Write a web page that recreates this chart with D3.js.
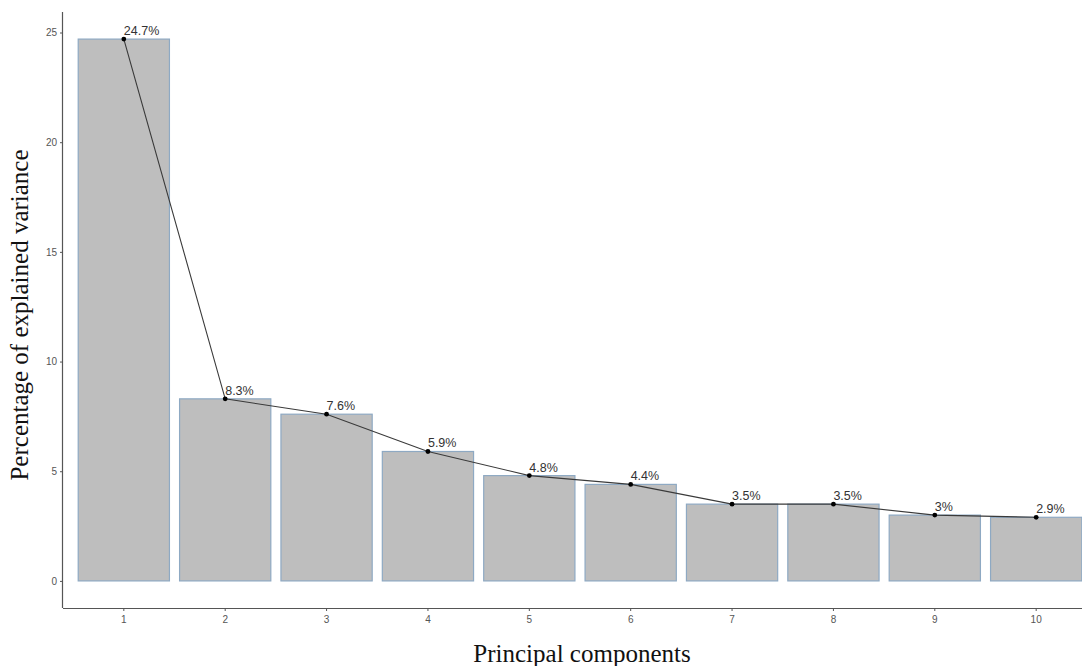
<!DOCTYPE html>
<html>
<head>
<meta charset="utf-8">
<script src="https://cdn.jsdelivr.net/npm/d3@7"></script>
<style>
html,body{margin:0;padding:0;background:#fff;}
svg{display:block;}
</style>
</head>
<body>
<svg id="chart" width="1082" height="666"></svg>
<script>
const components = ["1","2","3","4","5","6","7","8","9","10"];
const variance = [24.7, 8.3, 7.6, 5.9, 4.8, 4.4, 3.5, 3.5, 3.0, 2.9];
const labels = ["24.7%","8.3%","7.6%","5.9%","4.8%","4.4%","3.5%","3.5%","3%","2.9%"];
const yTicks = [0, 5, 10, 15, 20, 25];

(function(){
const svg = d3.select("#chart");
const pLeft = 63, pRight = 1097, pTop = 12, pBottom = 608;

const x = d3.scaleBand().domain(components).range([pLeft, pRight])
  .paddingInner(0.1).paddingOuter(0.15);
const y = d3.scaleLinear().domain([-1.235, 25.935]).range([pBottom, pTop]);

// bars
svg.append("g").selectAll("rect").data(variance).join("rect")
  .attr("x", (d,i) => x(components[i]))
  .attr("width", x.bandwidth())
  .attr("y", d => y(d))
  .attr("height", d => y(0) - y(d))
  .attr("fill", "#bebebe")
  .attr("stroke", "#8ea9c3")
  .attr("stroke-width", 1.2);

const cx = (i) => x(components[i]) + x.bandwidth()/2;

// line
const line = d3.line().x((d,i) => cx(i)).y(d => y(d));
svg.append("path").datum(variance)
  .attr("d", line).attr("fill", "none")
  .attr("stroke", "#3a3a3a").attr("stroke-width", 1.1);

// points
svg.append("g").selectAll("circle").data(variance).join("circle")
  .attr("cx", (d,i) => cx(i)).attr("cy", d => y(d)).attr("r", 2.4)
  .attr("fill", "#000");

// value labels
svg.append("g").selectAll("text").data(variance).join("text")
  .attr("x", (d,i) => cx(i))
  .attr("y", d => y(d) - 4)
  .attr("font-family", "Liberation Sans, Arial, sans-serif")
  .attr("font-size", 12.5)
  .attr("fill", "#333")
  .text((d,i) => labels[i]);

// axes
const xAxis = svg.append("g").attr("transform", `translate(0,${pBottom})`)
  .call(d3.axisBottom(x).tickSize(3).tickPadding(5).tickSizeOuter(0));
const yAxis = svg.append("g").attr("transform", `translate(${pLeft},0)`)
  .call(d3.axisLeft(y).tickValues(yTicks).tickSize(3).tickPadding(3).tickSizeOuter(0));
[xAxis, yAxis].forEach(a => {
  a.select(".domain").attr("stroke", "#555").attr("stroke-width", 1.2);
  a.selectAll(".tick line").attr("stroke", "#555");
  a.selectAll(".tick text").attr("fill", "#555")
    .attr("font-family", "Liberation Sans, Arial, sans-serif").attr("font-size", 10);
});
xAxis.select(".domain").attr("d", `M${pLeft},0.5H${pRight}`);
yAxis.select(".domain").attr("d", `M-0.5,${pTop}V${pBottom}`);

// titles
svg.append("text")
  .attr("x", 582).attr("y", 662)
  .attr("text-anchor", "middle")
  .attr("font-family", "Liberation Serif, Times New Roman, serif")
  .attr("font-size", 25).attr("fill", "#111")
  .text("Principal components");
svg.append("text")
  .attr("transform", `translate(28,315) rotate(-90)`)
  .attr("text-anchor", "middle")
  .attr("font-family", "Liberation Serif, Times New Roman, serif")
  .attr("font-size", 25).attr("fill", "#111")
  .text("Percentage of explained variance");
})();
</script>
</body>
</html>
